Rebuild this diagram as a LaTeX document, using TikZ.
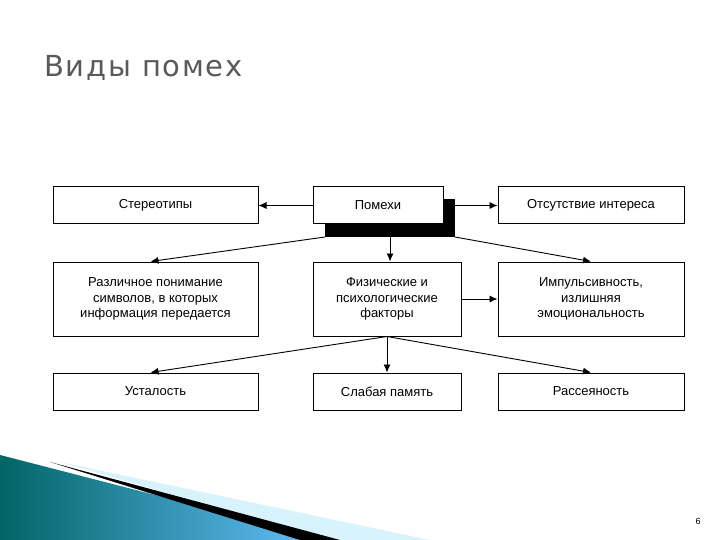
\documentclass[tikz,border=0pt]{standalone}
\usepackage{fontspec}
\setmainfont{Liberation Sans}
\newfontfamily\titlefont[LetterSpace=6]{DejaVu Sans}
\usetikzlibrary{arrows.meta}
\begin{document}
\begin{tikzpicture}[x=1pt,y=1pt,
  bx/.style={draw,line width=1pt,fill=white,inner sep=0pt},
  lbl/.style={font=\fontsize{13}{15.5}\selectfont,align=center,inner sep=0pt},
  ar/.style={-{Latex[length=8pt,width=7pt]},line width=0.9pt}]
\useasboundingbox (0,0) rectangle (720,-540);
% decoration
\shade[left color=teal!80!black,right color=cyan!60!blue!60] (0,-455) -- (330,-540) -- (0,-540) -- cycle;
\fill[cyan!15] (60,-462) -- (430,-540) -- (330,-540) -- cycle;
\fill[black] (50,-462) -- (340,-540) -- (300,-540) -- cycle;
\node[anchor=base west,font=\titlefont\fontsize{29}{34}\selectfont,text=black!65,inner sep=0pt] (title) at (44,-77) {Виды помех};
\node (pn) at (698,-521) {\fontsize{9}{10}\selectfont 6};
% row 1
\node[bx,minimum width=205pt,minimum height=37pt] (a) at (155.5,-205.5) {};
\fill (325,-199) rectangle (455,-237);
\node[bx,minimum width=130pt,minimum height=37pt] (b) at (378,-205.5) {};
\coordinate (bs) at (390,-237);
\coordinate (bl) at (325,-237);
\coordinate (br) at (455,-237);
\node[bx,minimum width=186pt,minimum height=37pt] (c) at (591,-205.5) {};
% row 2
\node[bx,minimum width=205pt,minimum height=74pt] (d) at (155.5,-299) {};
\node[bx,minimum width=148pt,minimum height=74pt] (e) at (387,-299) {};
\node[bx,minimum width=186pt,minimum height=74pt] (f) at (591,-299) {};
% row 3
\node[bx,minimum width=205pt,minimum height=37pt] (g) at (155.5,-391.5) {};
\node[bx,minimum width=148pt,minimum height=37pt] (h) at (387,-391.5) {};
\node[bx,minimum width=186pt,minimum height=37pt] (i) at (591,-391.5) {};
% labels
\node[lbl] (ta) at (a.center) {Стереотипы};
\node[lbl] (tb) at (b.center) {Помехи};
\node[lbl] (tc) at (c.center) {Отсутствие интереса};
\node[lbl] (td) at (d.center) {Различное понимание\\символов, в которых\\информация передается};
\node[lbl] (te) at (e.center) {Физические и\\психологические\\факторы};
\node[lbl] (tf) at (f.center) {Импульсивность,\\излишняя\\эмоциональность};
\node[lbl] (tg) at (g.center) {Усталость};
\node[lbl] (th) at (h.center) {Слабая память};
\node[lbl] (ti) at (i.center) {Рассеяность};
% arrows
\draw[ar] (b.west) -- (a.east);
\draw[ar] (455,-205.5) -- (c.west);
\draw[ar] (bl) -- ([xshift=-5pt]d.north);
\draw[ar] (bs) -- (bs |- d.north);
\draw[ar] (br) -- (f.north);
\draw[ar] (e.east) -- (f.west);
\draw[ar] (e.south) -- ([xshift=-5pt]g.north);
\draw[ar] (e.south) -- (h.north);
\draw[ar] (e.south) -- (i.north);
\end{tikzpicture}
\end{document}
